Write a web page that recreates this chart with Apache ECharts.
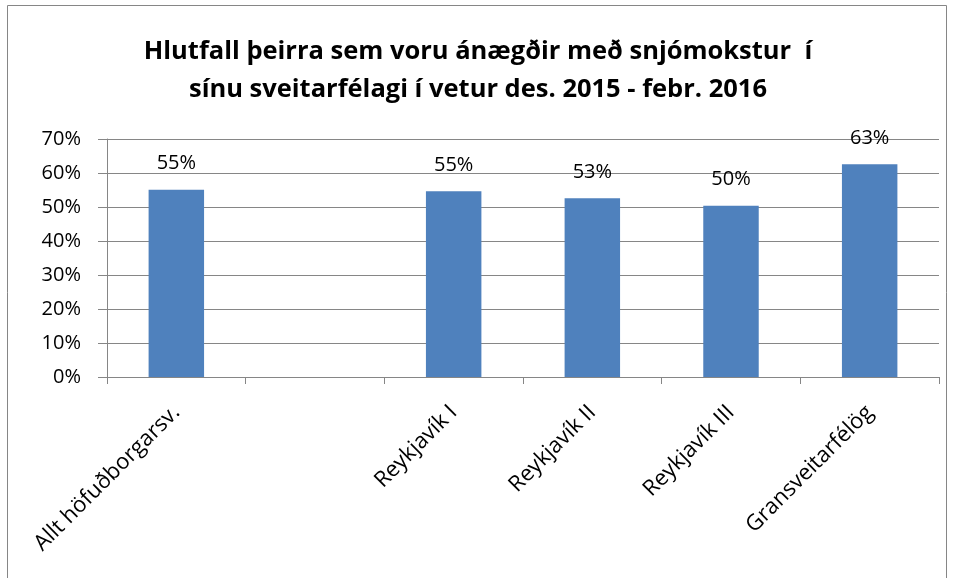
<!DOCTYPE html>
<html>
<head>
<meta charset="utf-8">
<script src="https://cdn.jsdelivr.net/npm/echarts@6/dist/echarts.min.js"></script>
<style>
  html, body { margin: 0; padding: 0; background: #fff; }
  #chart { width: 956px; height: 578px; }
</style>
</head>
<body>
<div id="chart"></div>
<script>
// Share satisfied with snow clearing, by area (percent)
const categories = ['Allt höfuðborgarsv.', '', 'Reykjavík I', 'Reykjavík II', 'Reykjavík III', 'Gransveitarfélög'];
const satisfied = [55.1, null, 54.6, 52.6, 50.4, 62.6];
const yTicks = [0, 10, 20, 30, 40, 50, 60, 70];

const FONT = '"Open Sans", "Noto Sans", sans-serif';

const chart = echarts.init(document.getElementById('chart'), null, { renderer: 'canvas' });
chart.setOption({
  animation: false,
  backgroundColor: '#ffffff',
  graphic: [{
    type: 'rect',
    shape: { x: 7.5, y: 5.5, width: 939, height: 600 },
    style: { fill: 'none', stroke: '#868686', lineWidth: 1 },
    silent: true
  }],
  title: {
    text: 'Hlutfall þeirra sem voru ánægðir með snjómokstur  í\nsínu sveitarfélagi í vetur des. 2015 - febr. 2016',
    left: 'center',
    top: 28,
    textStyle: {
      fontFamily: FONT,
      fontWeight: 'bold',
      fontSize: 25.5,
      lineHeight: 38,
      color: '#000'
    }
  },
  grid: { left: 107, right: 17, top: 139, bottom: 201, containLabel: false },
  xAxis: {
    type: 'category',
    data: categories,
    boundaryGap: true,
    axisLine: { show: true, lineStyle: { color: '#868686', width: 1 } },
    axisTick: { show: true, alignWithLabel: false, length: 7, lineStyle: { color: '#868686' } },
    axisLabel: {
      interval: 0,
      rotate: 45,
      margin: 32,
      fontFamily: FONT,
      fontSize: 22,
      color: '#000'
    }
  },
  yAxis: {
    type: 'value',
    min: yTicks[0],
    max: yTicks[yTicks.length - 1],
    interval: 10,
    axisLine: { show: true, lineStyle: { color: '#868686', width: 1 } },
    axisTick: { show: true, length: 9, lineStyle: { color: '#868686' } },
    splitLine: { show: true, lineStyle: { color: '#868686', width: 1 } },
    axisLabel: {
      formatter: '{value}%',
      margin: 26,
      fontFamily: FONT,
      fontSize: 20,
      color: '#000'
    }
  },
  series: [{
    type: 'bar',
    data: satisfied,
    barWidth: '40%',
    itemStyle: { color: '#4f81bd' },
    label: {
      show: true,
      position: 'top',
      distance: 16,
      formatter: p => Math.round(p.value) + '%',
      fontFamily: FONT,
      fontSize: 20,
      color: '#000'
    }
  }]
});
</script>
</body>
</html>
